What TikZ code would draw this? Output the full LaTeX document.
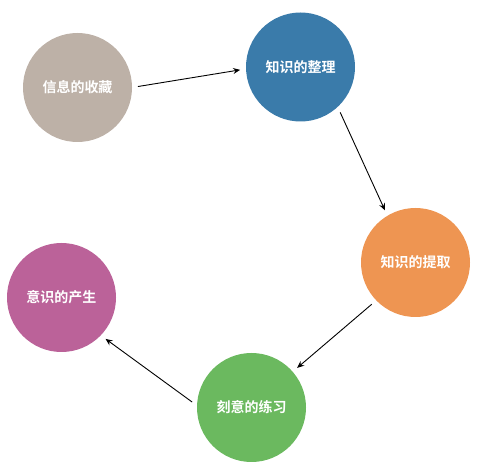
\documentclass[tikz,border=0pt]{standalone}
\usepackage{fontspec}
\newfontfamily\cjk{Noto Sans CJK SC}[BoldFont=* Bold]
\usetikzlibrary{arrows.meta}
\definecolor{cA}{HTML}{BDB1A7}
\definecolor{cB}{HTML}{3A7BAA}
\definecolor{cC}{HTML}{EE9552}
\definecolor{cD}{HTML}{6BB95F}
\definecolor{cE}{HTML}{BB6299}
\tikzset{
  bubble/.style={circle, minimum size=109pt, inner sep=0pt, outer sep=0pt,
    text=white, font=\cjk\bfseries\fontsize{14pt}{16pt}\selectfont},
  link/.style={line width=0.9pt, -{Stealth[length=7pt,width=6pt,inset=2.5pt]},
    shorten <=6pt, shorten >=6pt}
}
\begin{document}
\begin{tikzpicture}[x=1pt,y=-1pt]
\useasboundingbox (0,0) rectangle (499,468);
\node[bubble, fill=cA] (c1) at (77.5,87.5) {信息的收藏};
\node[bubble, fill=cB] (c2) at (300.5,67) {知识的整理};
\node[bubble, fill=cC] (c3) at (415.5,262.5) {知识的提取};
\node[bubble, fill=cD] (c4) at (251.5,407.5) {刻意的练习};
\node[bubble, fill=cE] (c5) at (61.5,297.5) {意识的产生};
\draw[link] (c1.0) -- (c2.182);
\draw[link] (c2.-47) -- (c3.121);
\draw[link] (c3.224) -- (c4.41);
\draw[link] (c4.178) -- (c5.-44);
\end{tikzpicture}
\end{document}
